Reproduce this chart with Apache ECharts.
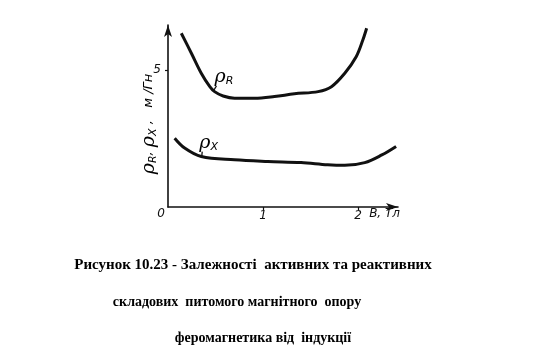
<!DOCTYPE html>
<html><head><meta charset="utf-8">
<script src="https://cdn.jsdelivr.net/npm/echarts@6/dist/echarts.min.js"></script>
<style>html,body{margin:0;padding:0;background:#fff}#c{width:556px;height:361px}</style>
</head><body><div id="c"></div>
<script>
// Data (B in Тл, rho in м/Гн)
var rhoR_B = [0.14, 0.246, 0.35, 0.44, 0.49, 0.58, 0.70, 0.91, 1.12, 1.33, 1.58, 1.72, 1.86, 1.98, 2.05, 2.09];
var rhoR_V = [6.34, 5.61, 4.88, 4.39, 4.21, 4.05, 3.97, 3.97, 4.03, 4.13, 4.21, 4.39, 4.88, 5.48, 6.09, 6.52];
var rhoX_B = [0.07, 0.175, 0.35, 0.70, 1.05, 1.40, 1.68, 1.86, 2.07, 2.25, 2.40];
var rhoX_V = [2.51, 2.15, 1.84, 1.72, 1.66, 1.62, 1.54, 1.52, 1.62, 1.90, 2.21];
var xTicks = [1, 2];
var yTicks = [5];
var captionLines = [
  'Рисунок 10.23 - Залежності  активних та реактивних',
  'складових  питомого магнітного  опору',
  'феромагнетика від  індукції'
];

function pairs(xs, ys){ return xs.map(function(x,i){return [x, ys[i]];}); }

var chart = echarts.init(document.getElementById('c'), null, {renderer:'canvas'});
var labFont = {fontFamily:'DejaVu Sans', fontStyle:'italic', fontSize:12, color:'#111'};
chart.setOption({
  backgroundColor:'#fff',
  animation:false,
  grid:{left:168, top:25, width:230, height:182},
  xAxis:{type:'value', min:0, max:2.42, interval:1,
    axisLine:{show:true, symbol:['none','arrow'], symbolSize:[6,12], lineStyle:{color:'#111',width:1.6}},
    axisTick:{show:true, length:3, customValues:xTicks, lineStyle:{color:'#111',width:1.2}},
    splitLine:{show:false},
    axisLabel:Object.assign({margin:3, customValues:xTicks}, labFont)
  },
  yAxis:{type:'value', min:0, max:6.64, interval:5,
    axisLine:{show:true, symbol:['none','arrow'], symbolSize:[6,12], lineStyle:{color:'#111',width:1.6}},
    axisTick:{show:true, length:3, customValues:yTicks, lineStyle:{color:'#111',width:1.2}},
    splitLine:{show:false},
    axisLabel:Object.assign({margin:7, customValues:yTicks}, labFont)
  },
  series:[
    {type:'line', smooth:0.35, showSymbol:false, data:pairs(rhoR_B, rhoR_V), lineStyle:{color:'#111', width:3}},
    {type:'line', smooth:0.35, showSymbol:false, data:pairs(rhoX_B, rhoX_V), lineStyle:{color:'#111', width:3}}
  ]
});

function px(p){ return chart.convertToPixel({gridIndex:0}, p); }
var o = px([0,0]);
var xEnd = px([2.42,0]);
var rLeadA = px([0.482,4.26]), rLeadB = px([0.51,4.42]);
var xLeadA = px([0.355,1.84]), xLeadB = px([0.36,2.02]);
var rich = {
  p:{fontFamily:'DejaVu Serif', fontStyle:'italic', fontSize:19, color:'#111'},
  s:{fontFamily:'DejaVu Sans', fontStyle:'italic', fontSize:11, color:'#111', padding:[8,0,0,0]},
  t:{fontFamily:'DejaVu Sans', fontStyle:'italic', fontSize:13, color:'#111'}
};
var graphics = [
  {type:'text', x:o[0]-3, y:o[1]+1, style:{text:'0', font:'italic 12px "DejaVu Sans"', fill:'#111', align:'right', verticalAlign:'top'}},
  {type:'text', x:xEnd[0]+2, y:o[1]+1, style:{text:'B, Тл', font:'italic 12px "DejaVu Sans"', fill:'#111', align:'right', verticalAlign:'top'}},
  {type:'line', shape:{x1:rLeadA[0],y1:rLeadA[1],x2:rLeadB[0],y2:rLeadB[1]}, style:{stroke:'#111', lineWidth:1.3}},
  {type:'line', shape:{x1:xLeadA[0],y1:xLeadA[1],x2:xLeadB[0],y2:xLeadB[1]}, style:{stroke:'#111', lineWidth:1.3}},
  {type:'text', x:rLeadB[0]-2, y:rLeadB[1]+1, style:{text:'{p|ρ}{s|R}', rich:rich, align:'left', verticalAlign:'bottom'}},
  {type:'text', x:xLeadB[0]-3, y:xLeadB[1]+1, style:{text:'{p|ρ}{s|X}', rich:rich, align:'left', verticalAlign:'bottom'}},
  {type:'text', x:149, y:124, rotation:Math.PI/2,
    style:{text:'{p|ρ}{s|R}{t|, }{p|ρ}{s|X}{t| ,   м /Гн}', rich:rich, align:'center', verticalAlign:'middle'}}
];
var capY = [265, 302, 338], capX = [253, 237, 263], capSize = [15, 14, 14];
captionLines.forEach(function(t,i){
  graphics.push({type:'text', x:capX[i], y:capY[i], style:{text:t, font:'bold ' + capSize[i] + 'px "Liberation Serif"', fill:'#000', align:'center', verticalAlign:'middle'}});
});
chart.setOption({graphic:graphics});
</script>
</body></html>
